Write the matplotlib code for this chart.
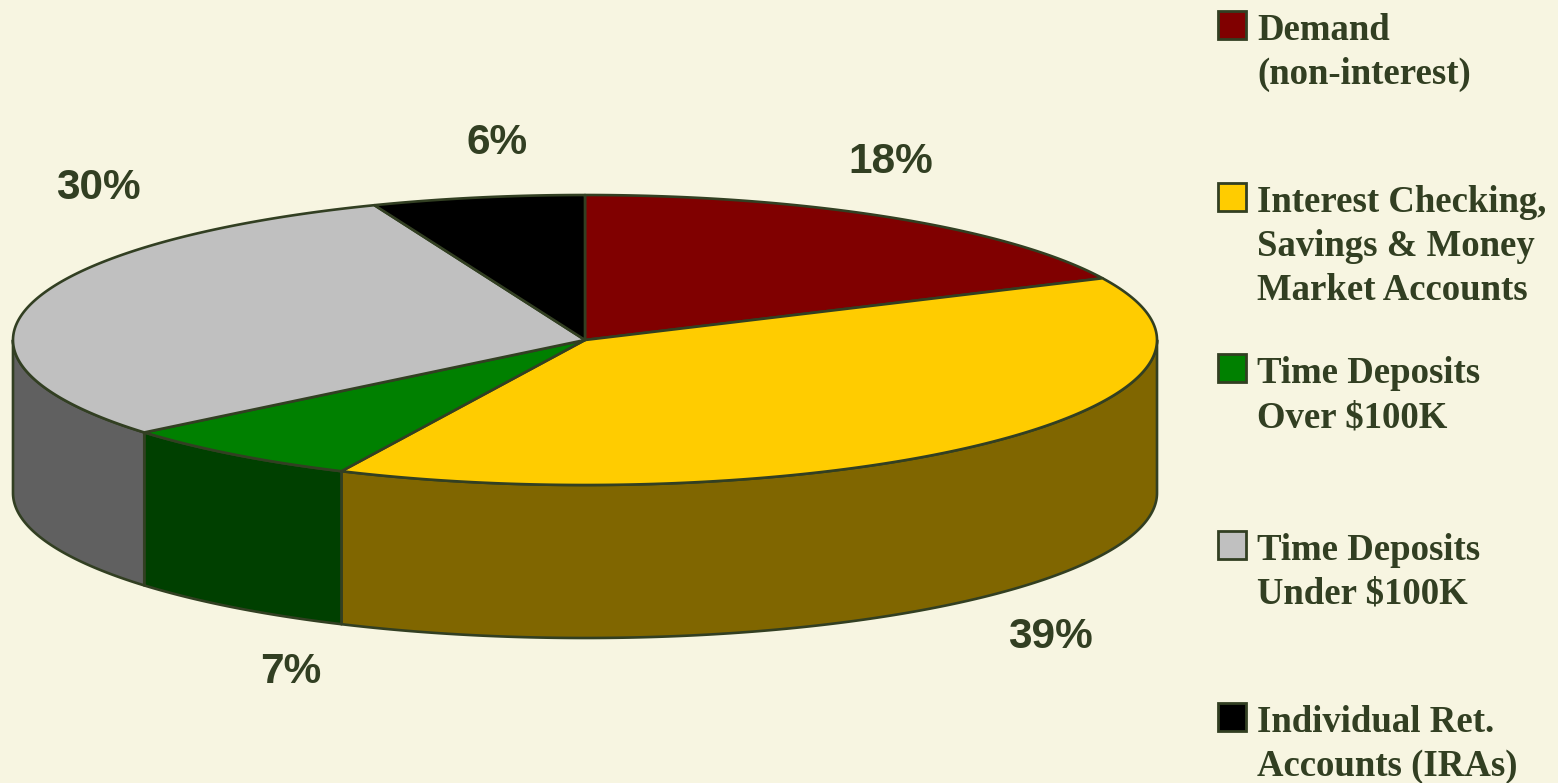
import numpy as np
import matplotlib
matplotlib.use("Agg")
import matplotlib.pyplot as plt
from matplotlib.patches import Polygon, Rectangle

categories = [
    "Demand\n(non-interest)",
    "Interest Checking,\nSavings & Money\nMarket Accounts",
    "Time Deposits\nOver $100K",
    "Time Deposits\nUnder $100K",
    "Individual Ret.\nAccounts (IRAs)",
]
values = [18, 39, 7, 30, 6]
pct_labels = ["18%", "39%", "7%", "30%", "6%"]

top_colors = ["#800000", "#FFCC00", "#008000", "#C0C0C0", "#000000"]
side_colors = ["#400000", "#806600", "#004000", "#606060", "#000000"]

BG = "#F7F5E1"
INK = "#323F22"
W, H = 1558, 783

# pie geometry (pixels)
cx, cy = 585, 340
rx, ry = 572, 145
depth = 153

# layout for percentage labels and legend
label_xy = [(891, 162), (1050, 637), (291, 672), (98, 188), (497, 143)]
legend_baselines = [40, 212, 383, 560, 732]
line_step = 44


def ell(t):
    # t in degrees, clockwise from 12 o'clock
    r = np.radians(t)
    return cx + rx * np.sin(r), cy - ry * np.cos(r)


fig = plt.figure(figsize=(W / 100, H / 100), dpi=100, facecolor=BG)
ax = fig.add_axes([0, 0, 1, 1])
ax.set_xlim(0, W)
ax.set_ylim(H, 0)
ax.axis("off")
ax.set_facecolor(BG)

fracs = np.array(values, dtype=float) / sum(values)
edges = np.concatenate([[0], np.cumsum(fracs) * 360])

# side walls (front half only: 90..270 deg)
for i in range(len(values)):
    a0, a1 = max(edges[i], 90), min(edges[i + 1], 270)
    if a1 <= a0:
        continue
    t = np.linspace(a0, a1, 200)
    x, y = ell(t)
    pts = np.column_stack([np.concatenate([x, x[::-1]]),
                           np.concatenate([y, y[::-1] + depth])])
    ax.add_patch(Polygon(pts, closed=True, facecolor=side_colors[i],
                         edgecolor=INK, lw=1.9, joinstyle="round"))

# top faces
for i in range(len(values)):
    t = np.linspace(edges[i], edges[i + 1], 300)
    x, y = ell(t)
    pts = np.column_stack([np.concatenate([[cx], x]), np.concatenate([[cy], y])])
    ax.add_patch(Polygon(pts, closed=True, facecolor=top_colors[i],
                         edgecolor=INK, lw=1.9, joinstyle="round"))

for (lx, ly), s in zip(label_xy, pct_labels):
    ax.text(lx, ly, s, ha="center", va="center", fontsize=30.5,
            fontweight="bold", family="Liberation Sans", color=INK)

# legend
for i, (name, base) in enumerate(zip(categories, legend_baselines)):
    ax.add_patch(Rectangle((1218, base - 29), 28, 28, facecolor=top_colors[i],
                           edgecolor=INK, lw=2.0))
    for j, line in enumerate(name.split("\n")):
        ax.text(1257, base + j * line_step, line, ha="left", va="baseline",
                fontsize=26.5, fontweight="bold", family="Liberation Serif",
                color=INK)

fig.savefig("out.png", dpi=100, facecolor=BG)
